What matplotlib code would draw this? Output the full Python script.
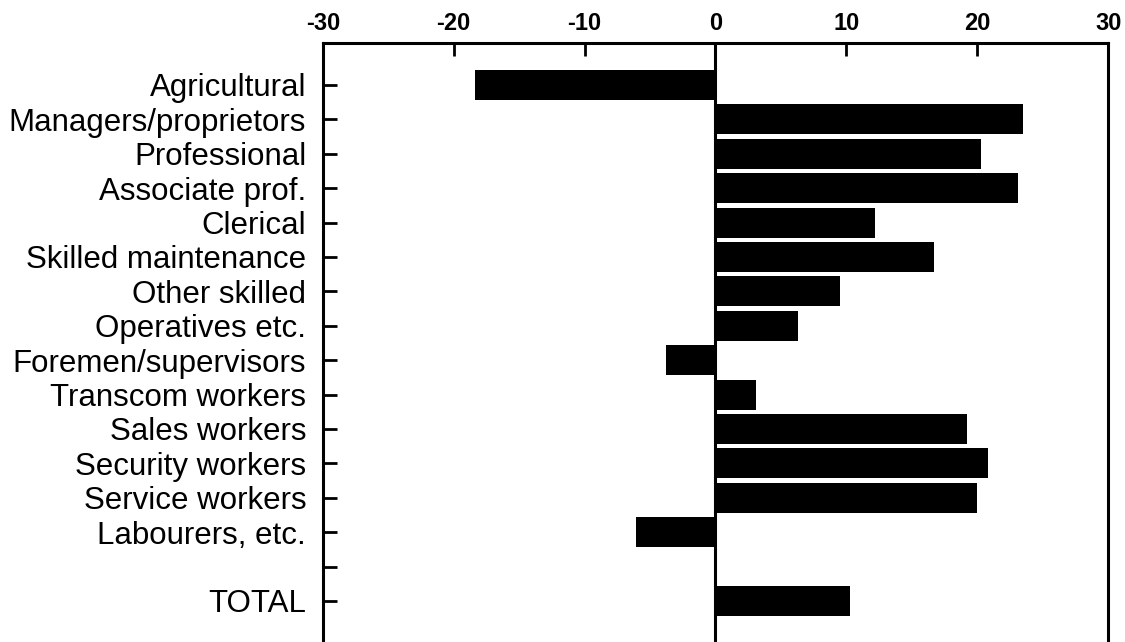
import numpy as np
import matplotlib
matplotlib.use("Agg")
import matplotlib.pyplot as plt

# occupation groups, top to bottom ('' is the empty row before TOTAL)
categories = ["Agricultural", "Managers/proprietors", "Professional",
              "Associate prof.", "Clerical", "Skilled maintenance",
              "Other skilled", "Operatives etc.", "Foremen/supervisors",
              "Transcom workers", "Sales workers", "Security workers",
              "Service workers", "Labourers, etc.", "", "TOTAL"]
# percentage change (None = no bar)
values = [-18.4, 23.5, 20.3, 23.1, 12.2, 16.7, 9.5, 6.3, -3.8,
          3.1, 19.2, 20.8, 20.0, -6.1, None, 10.3]
xticks = [-30, -20, -10, 0, 10, 20, 30]

plt.rcParams['font.family'] = ['Liberation Sans', 'DejaVu Sans']

fig = plt.figure(figsize=(11.25, 6.42), dpi=100)
ax = fig.add_axes([0.287, -0.0433, 0.698, 0.9763])

pos = np.arange(len(categories))
for y, v in zip(pos, values):
    if v is None:
        continue
    ax.barh(y, v, height=0.87, color='black')

ax.axvline(0, color='black', lw=2.2)
ax.set_xlim(-30, 30)
ax.set_ylim(17, -1.22)

ax.xaxis.tick_top()
ax.set_xticks(xticks)
ax.set_xticklabels([str(t) for t in xticks], fontsize=17, fontweight='bold')
ax.set_yticks(pos)
ax.set_yticklabels(categories, fontsize=22.5)
ax.tick_params(axis='x', direction='in', length=9, width=2, pad=6)
ax.tick_params(axis='y', direction='in', length=10, width=2, pad=12)
for s in ax.spines.values():
    s.set_linewidth(2.2)

fig.savefig("out.png", dpi=100)
